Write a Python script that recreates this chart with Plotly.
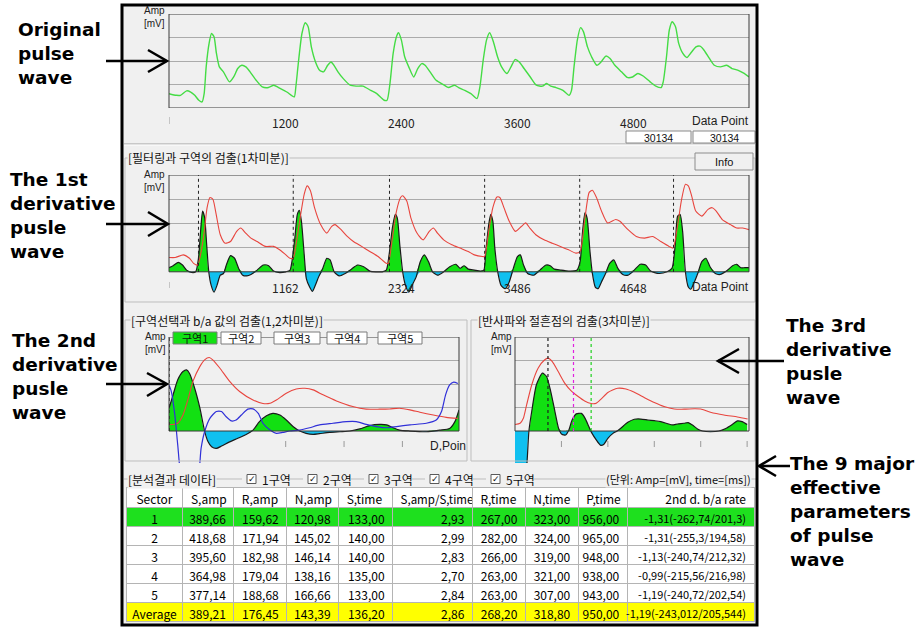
import numpy as np
import plotly.graph_objects as go

W, H = 916, 628

# ---------------------------------------------------------------- data
# Original pulse wave (sample index, amplitude)
pulse_x = [0, 76, 118, 182, 224, 266, 308, 342, 363, 384,
           414, 439, 465, 490, 520, 562, 625, 668, 710, 752,
           794, 837, 900, 963, 1027, 1082, 1132, 1217, 1293, 1310,
           1335, 1373, 1407, 1437, 1470, 1513, 1555, 1597, 1639, 1673,
           1703, 1745, 1800, 1872, 1935, 2003, 2083, 2146, 2222, 2252,
           2282, 2315, 2349, 2370, 2400, 2434, 2476, 2527, 2569, 2611,
           2645, 2696, 2759, 2843, 2886, 2949, 2991, 3055, 3118, 3181,
           3211, 3245, 3279, 3312, 3350, 3393, 3435, 3490, 3532, 3574,
           3617, 3667, 3731, 3794, 3857, 3900, 3942, 3997, 4069, 4132,
           4157, 4183, 4217, 4250, 4280, 4322, 4364, 4419, 4462, 4512,
           4555, 4605, 4673, 4732, 4787, 4842, 4901, 4969, 5028, 5083,
           5104, 5138, 5167, 5197, 5231, 5264, 5307, 5349, 5391, 5442,
           5484, 5526, 5581, 5632, 5695, 5759, 5814, 5873, 5940, 5990]
pulse_y = [61, 54, 54, 73, 68, 54, 33, 26, 61, 175,
           275, 317, 303, 232, 175, 154, 111, 132, 168, 182,
           175, 154, 118, 90, 87, 97, 87, 68, 47, 90,
           189, 317, 363, 346, 260, 196, 161, 154, 182, 196,
           182, 154, 125, 97, 93, 93, 75, 61, 33, 33,
           104, 232, 303, 320, 289, 218, 175, 132, 168, 189,
           182, 154, 118, 97, 87, 97, 87, 75, 61, 40,
           90, 204, 289, 320, 282, 218, 175, 147, 175, 206,
           196, 168, 132, 97, 93, 104, 93, 87, 75, 54,
           75, 175, 289, 342, 325, 260, 218, 182, 196, 221,
           211, 182, 154, 130, 132, 147, 135, 111, 93, 87,
           111, 218, 332, 367, 346, 275, 232, 215, 235, 260,
           263, 246, 211, 182, 175, 182, 168, 161, 147, 132]
pulse_ticks = [1200, 2400, 3600, 4800]
sample_count = "30134"

# Filtered wave and 1st derivative
flt_x = [0, 62, 144, 205, 246, 287, 328, 357, 381, 410,
         439, 472, 513, 562, 615, 677, 718, 767, 820, 882,
         964, 1046, 1107, 1169, 1210, 1243, 1271, 1312, 1353, 1382,
         1415, 1456, 1517, 1579, 1628, 1661, 1722, 1784, 1845, 1927,
         2009, 2092, 2174, 2194, 2235, 2276, 2317, 2338, 2379, 2420,
         2481, 2543, 2604, 2645, 2686, 2748, 2830, 2912, 2994, 3055,
         3137, 3158, 3199, 3240, 3281, 3310, 3351, 3404, 3465, 3527,
         3568, 3609, 3670, 3752, 3834, 3916, 3998, 4072, 4113, 4162,
         4204, 4236, 4277, 4327, 4388, 4470, 4511, 4593, 4675, 4757,
         4839, 4921, 5003, 5044, 5085, 5126, 5167, 5196, 5229, 5270,
         5331, 5393, 5434, 5475, 5536, 5618, 5680, 5741, 5803]
flt_y = [59, 59, 70, 56, 35, 28, 98, 181, 265, 307,
         300, 237, 153, 118, 125, 167, 181, 160, 139, 125,
         105, 105, 91, 70, 56, 56, 112, 223, 321, 355,
         335, 265, 195, 160, 188, 195, 174, 146, 125, 105,
         84, 63, 35, 35, 139, 251, 307, 314, 293, 223,
         160, 132, 167, 181, 160, 132, 112, 98, 84, 70,
         63, 63, 167, 265, 309, 307, 265, 209, 167, 188,
         202, 181, 153, 132, 118, 105, 91, 77, 84, 223,
         328, 337, 307, 251, 202, 216, 209, 174, 146, 139,
         146, 125, 105, 98, 181, 293, 362, 355, 314, 251,
         230, 258, 265, 251, 216, 195, 181, 181, 174]
d1_x = [0, 41, 94, 135, 176, 226, 267, 295, 316, 336,
        357, 377, 398, 422, 451, 480, 513, 545, 574, 615,
        656, 697, 738, 779, 820, 882, 943, 997, 1046, 1107,
        1169, 1210, 1230, 1259, 1284, 1304, 1325, 1353, 1374, 1407,
        1435, 1464, 1497, 1538, 1579, 1612, 1653, 1702, 1763, 1825,
        1886, 1948, 2009, 2071, 2133, 2174, 2202, 2235, 2264, 2284,
        2309, 2338, 2366, 2399, 2432, 2473, 2514, 2555, 2596, 2637,
        2686, 2748, 2809, 2871, 2912, 2953, 2994, 3055, 3117, 3150,
        3170, 3199, 3219, 3240, 3260, 3289, 3322, 3363, 3404, 3445,
        3486, 3515, 3547, 3588, 3650, 3711, 3773, 3814, 3855, 3916,
        3998, 4080, 4113, 4138, 4162, 4183, 4212, 4236, 4265, 4294,
        4327, 4368, 4409, 4450, 4491, 4540, 4593, 4655, 4716, 4769,
        4819, 4901, 4983, 5032, 5065, 5089, 5114, 5139, 5167, 5196,
        5220, 5249, 5290, 5331, 5372, 5413, 5466, 5516, 5577, 5639,
        5680, 5721, 5762, 5803]
d1_y = [17, 25, 39, 28, 7, -3, 0, 56, 167, 251,
        223, 112, 0, -56, -84, -56, -14, -7, 28, 67,
        56, 14, -14, -17, -11, 7, 28, 25, 3, -3,
        0, 6, 42, 139, 237, 254, 209, 70, -28, -63,
        -81, -56, -21, 14, 56, 49, 0, -17, -7, 11,
        28, 21, 3, 0, 0, 7, 70, 181, 237, 223,
        112, 0, -56, -84, -56, -21, 42, 70, 42, 0,
        -14, 0, 21, 31, 14, 25, 11, 7, 3, 7,
        84, 195, 237, 209, 98, 0, -56, -70, -42, 14,
        63, 70, 28, -7, -14, 7, 28, 25, 11, 7,
        3, 6, 42, 167, 244, 223, 84, -7, -63, -70,
        -42, -7, 35, 49, 14, -11, -14, 7, 31, 28,
        3, -7, 0, 14, 112, 230, 237, 167, 0, -63,
        -72, -49, -7, 42, 56, 21, -7, -11, 3, 25,
        31, 17, 17, 17]
d1_onsets = [295, 1243, 2206, 3158, 4109, 5048]
d1_ticks = [1162, 2324, 3486, 4648]

# Sector 1: filtered wave, 2nd derivative and auxiliary curve
s1_x = [0, 7, 15, 24, 33, 41, 53, 61, 69, 75,
        87, 104, 121, 144, 161, 173, 184, 201, 218, 233,
        247, 264, 287, 315, 338, 361, 378, 395, 413, 430,
        453, 475, 495]
s1_y = [28, 28, 33, 68, 139, 211, 275, 303, 313, 303,
        268, 211, 168, 132, 117, 118, 132, 161, 179, 182,
        175, 154, 128, 104, 93, 93, 94, 97, 90, 80,
        68, 58, 54]
d2_x = [0, 7, 15, 24, 30, 35, 44, 53, 61, 67,
        73, 81, 90, 104, 118, 133, 144, 155, 167, 178,
        190, 201, 213, 224, 235, 247, 258, 275, 293, 310,
        327, 344, 361, 373, 384, 395, 413, 441, 464, 481,
        490, 497]
d2_y = [97, 154, 218, 253, 260, 246, 182, 97, 0, -46,
        -67, -74, -64, -46, -31, -14, 4, 40, 65, 75,
        68, 47, 18, 0, -10, -14, -11, -6, -3, 0,
        9, 23, 28, 26, 14, 4, 0, -3, 4, 11,
        40, 90]
aux_x = [0, 4, 10, 15, 21, 35, 50, 55, 61, 70,
         81, 90, 98, 107, 115, 124, 135, 144, 153, 161,
         173, 184, 195, 207, 224, 241, 258, 281, 304, 321,
         338, 355, 373, 390, 413, 441, 458, 467, 474, 481,
         488, 495]
aux_y = [196, 168, 68, -60, -202, -288, -202, -74, -3, 54,
         83, 83, 61, 43, 47, 68, 93, 94, 75, 33,
         4, -10, -6, 0, 4, 14, 26, 33, 40, 40,
         28, 19, 14, 19, 26, 33, 47, 83, 154, 196,
         208, 202]
s1_onset = [0]
s1_ticks = [200, 300, 400]
sector_tabs = ["구역1", "구역2", "구역3", "구역4", "구역5"]

# Reflected wave / dicrotic notch: filtered wave and 3rd derivative
rw_x = [0, 11, 18, 25, 36, 50, 64, 71, 80, 93,
        107, 121, 136, 150, 164, 175, 186, 200, 221, 239,
        257, 279, 300, 321, 343, 364, 386, 400, 421, 450,
        479, 501]
rw_y = [28, 33, 54, 111, 196, 268, 303, 310, 296, 253,
        204, 171, 147, 128, 117, 118, 137, 164, 182, 179,
        165, 142, 121, 104, 94, 93, 95, 94, 80, 68,
        60, 51]
d3_x = [0, 21, 26, 30, 36, 46, 59, 68, 77, 86,
        94, 101, 109, 116, 123, 132, 143, 151, 159, 166,
        175, 184, 191, 200, 211, 220, 229, 243, 257, 271,
        286, 300, 314, 329, 339, 350, 364, 373, 382, 393,
        404, 421, 439, 454, 468, 479, 489, 500]
d3_y = [-316, -259, -131, 0, 83, 196, 246, 232, 168, 83,
        11, -14, -17, 4, 47, 73, 75, 54, 19, -10,
        -38, -60, -57, -31, -10, 0, 14, 37, 50, 51,
        47, 44, 40, 31, 26, 30, 33, 36, 26, 9,
        0, -3, 0, 11, 28, 43, 40, 28]
rw_marks = [71, 126, 164]
rw_mark_colors = ["#202020", "#e020e0", "#20d020"]
rw_ticks = [100, 200, 300, 400, 500]

# Analysis result table
sectors = ["1", "2", "3", "4", "5", "Average"]
s_amp = [389.66, 418.68, 395.60, 364.98, 377.14, 389.21]
r_amp = [159.62, 171.94, 182.98, 179.04, 188.68, 176.45]
n_amp = [120.98, 145.02, 146.14, 138.16, 166.66, 143.39]
s_time = [133.00, 140.00, 140.00, 135.00, 133.00, 136.20]
s_ratio = [2.93, 2.99, 2.83, 2.70, 2.84, 2.86]
r_time = [267.00, 282.00, 266.00, 263.00, 263.00, 268.20]
n_time = [323.00, 324.00, 319.00, 321.00, 307.00, 318.80]
p_time = [956.00, 965.00, 948.00, 938.00, 943.00, 950.00]
ba_rate = [-1.31, -1.31, -1.13, -0.99, -1.19, -1.19]
b_val = ["-262.74", "-255.3", "-240.74", "-215.56", "-240.72", "-243.012"]
a_val = ["201.3", "194.58", "212.32", "216.98", "202.54", "205.544"]
headers = ["Sector", "S,amp", "R,amp", "N,amp", "S,time", "S,amp/S,time",
           "R,time", "N,time", "P,time", "2nd d. b/a rate"]

# ---------------------------------------------------------------- styling
KR = "Noto Sans CJK KR, sans-serif"
NUM = "Noto Sans CJK KR, Liberation Sans, sans-serif"
SMALL = "Liberation Sans, Arial, sans-serif"
BIG = "DejaVu Sans, sans-serif"
PANEL = "#f0f0f0"
GREEN_FILL = "#12e012"
CYAN_FILL = "#10c0f0"
RED = "#e8453e"
BLUE = "#3030d8"
GRID = "#ababab"


def px(x):
    return x / W


def py(y):
    return 1 - y / H


shapes = []
annotations = []


def rect(x0, y0, x1, y1, line="#000", width=1, fill="rgba(0,0,0,0)", layer="above"):
    shapes.append(dict(type="rect", xref="paper", yref="paper",
                       x0=px(x0), x1=px(x1), y0=py(y1), y1=py(y0),
                       line=dict(color=line, width=width), fillcolor=fill, layer=layer))


def seg(x0, y0, x1, y1, color="#000", width=1):
    shapes.append(dict(type="line", xref="paper", yref="paper",
                       x0=px(x0), x1=px(x1), y0=py(y0), y1=py(y1),
                       line=dict(color=color, width=width)))


def path(points, color="#000", width=2.5):
    d = "M " + " L ".join(f"{px(a):.5f},{py(b):.5f}" for a, b in points)
    shapes.append(dict(type="path", xref="paper", yref="paper", path=d,
                       line=dict(color=color, width=width)))


def text(x, y, s, size=12, family=KR, color="#000", xanchor="center",
         bg="rgba(0,0,0,0)", align="left"):
    annotations.append(dict(xref="paper", yref="paper", x=px(x), y=py(y), text=s,
                            showarrow=False, xanchor=xanchor, yanchor="middle",
                            align=align, bgcolor=bg, borderpad=0,
                            font=dict(family=family, size=size, color=color)))


def fmt(v):
    return f"{v:.2f}".replace(".", ",")


# ---------------------------------------------------------------- figure
fig = go.Figure()


def filled_wave(x, y, xa, ya):
    y = np.asarray(y, dtype=float)
    fig.add_trace(go.Scatter(x=x, y=np.maximum(y, 0), mode="lines", fill="tozeroy",
                             fillcolor=GREEN_FILL, line=dict(width=0, shape="spline", smoothing=0.6),
                             xaxis=xa, yaxis=ya, hoverinfo="skip"))
    fig.add_trace(go.Scatter(x=x, y=np.minimum(y, 0), mode="lines", fill="tozeroy",
                             fillcolor=CYAN_FILL, line=dict(width=0, shape="spline", smoothing=0.6),
                             xaxis=xa, yaxis=ya, hoverinfo="skip"))
    fig.add_trace(go.Scatter(x=x, y=y, mode="lines",
                             line=dict(color="#1a1a1a", width=1.2, shape="spline", smoothing=0.6),
                             xaxis=xa, yaxis=ya))


def curve(x, y, color, xa, ya, width=1.1):
    fig.add_trace(go.Scatter(x=x, y=y, mode="lines",
                             line=dict(color=color, width=width, shape="spline", smoothing=0.6),
                             xaxis=xa, yaxis=ya))


# original pulse wave
curve(pulse_x, pulse_y, "#44dc44", "x", "y", width=1.4)
# 1st derivative panel
filled_wave(d1_x, d1_y, "x2", "y2")
curve(flt_x, flt_y, RED, "x2", "y2")
# sector selection panel
filled_wave(d2_x, d2_y, "x3", "y3")
curve(s1_x, s1_y, RED, "x3", "y3")
curve(aux_x, aux_y, BLUE, "x3", "y3", width=1.2)
# 3rd derivative panel
filled_wave(d3_x, d3_y, "x4", "y4")
curve(rw_x, rw_y, RED, "x4", "y4")

# ---------------------------------------------------------------- table
green_row = "#1ee01e"
yellow_row = "#ffff00"
row_fill = [green_row, "white", "white", "white", "white", yellow_row]
cols = [sectors,
        [fmt(v) for v in s_amp], [fmt(v) for v in r_amp], [fmt(v) for v in n_amp],
        [fmt(v) for v in s_time], [fmt(v) for v in s_ratio], [fmt(v) for v in r_time],
        [fmt(v) for v in n_time], [fmt(v) for v in p_time],
        [f"{fmt(r)}({b}/{a})".replace(".", ",") for r, b, a in zip(ba_rate, b_val, a_val)]]
fig.add_trace(go.Table(
    domain=dict(x=[px(126), px(755)], y=[py(625), py(487)]),
    columnwidth=[57, 51, 53, 52, 54, 80, 53, 53, 49, 127],
    header=dict(values=headers, fill_color="white", line_color="#b4b4b4",
                align=["center"] + ["left"] * 8 + ["right"], height=20,
                font=dict(family=NUM, size=[12] * 5 + [11.5] + [12] * 4, color="#000")),
    cells=dict(values=cols, fill_color=[row_fill] * 10, line_color="#b4b4b4",
               align=["center"] + ["right"] * 9, height=19,
               font=dict(family=NUM, size=[12] * 9 + [11], color="#000")),
))

# ---------------------------------------------------------------- background, frames
rect(122, 5, 757, 625, line=PANEL, width=0, fill=PANEL, layer="below")

# panel group boxes
seg(124, 144, 755, 144, "#a0a0a0")
seg(124, 145, 755, 145, "#ffffff")
rect(125, 158, 755, 302, line="#bdbdbd")
rect(125, 320, 467, 461, line="#bdbdbd")
rect(471, 320, 755, 461, line="#bdbdbd")
seg(124, 479, 756, 479, "#bdbdbd")

# plot boxes and gridlines are tied to each subplot
for xa, ya in [("x", "y"), ("x2", "y2"), ("x3", "y3"), ("x4", "y4")]:
    shapes.append(dict(type="rect", xref=f"{xa} domain", yref=ya, x0=0, x1=1, y0=0, y1=400,
                       line=dict(color="#3a3a3a", width=1), fillcolor="rgba(0,0,0,0)"))

# onset markers
for v in d1_onsets:
    shapes.append(dict(type="line", xref="x2", yref="y2", x0=v, x1=v, y0=0, y1=400,
                       line=dict(color="#222", width=1, dash="dot")))
for v in s1_onset:
    shapes.append(dict(type="line", xref="x3", yref="y3", x0=v, x1=v, y0=0, y1=400,
                       line=dict(color="#222", width=1.2, dash="dot")))
for v, c in zip(rw_marks, rw_mark_colors):
    shapes.append(dict(type="line", xref="x4", yref="y4", x0=v, x1=v, y0=0, y1=400,
                       line=dict(color=c, width=1.2, dash="dot")))

# small axis tick marks
for xr, vals, y0, y1 in [("x", [0], 117, 124), ("x2", [0], 282, 288),
                         ("x3", s1_ticks, 441, 447), ("x4", rw_ticks, 441, 447)]:
    for v in vals:
        shapes.append(dict(type="line", xref=xr, yref="paper", x0=v, x1=v,
                           y0=py(y1), y1=py(y0), line=dict(color="#9a9a9a", width=1)))

# tick labels
for v in pulse_ticks:
    annotations.append(dict(xref="x", yref="paper", x=v, y=py(122), text=str(v), showarrow=False,
                            yanchor="middle", font=dict(family=NUM, size=12, color="#222")))
for v in d1_ticks:
    annotations.append(dict(xref="x2", yref="paper", x=v, y=py(287), text=str(v), showarrow=False,
                            yanchor="middle", font=dict(family=NUM, size=12, color="#222")))
text(750, 121, "Data Point", 12, SMALL, "#222", xanchor="right")
text(750, 287, "Data Point", 12, SMALL, "#222", xanchor="right")
text(429, 446, "D,Poin", 12, SMALL, "#222", xanchor="left")

# amplitude labels
for x, y in [(154, 17), (154, 181), (155, 343), (501, 343)]:
    text(x, y, "Amp<br>[mV]", 10, SMALL, "#222", align="center")

# counters under the top panel
for x0, x1 in [(626, 691), (693, 755)]:
    rect(x0, 131, x1, 143, line="#8a8a8a", fill="white")
    text((x0 + x1) / 2, 137.5, sample_count, 10.5, SMALL, "#111")

# Info button
rect(695, 153, 753, 170, line="#8c8c8c", fill="#f0f0f0")
text(724, 161.5, "Info", 11, SMALL, "#111")

# group titles
text(127, 157, "[필터링과 구역의 검출(1차미분)]", 12, KR, "#111", xanchor="left", bg=PANEL)
text(130, 320, "[구역선택과 b/a 값의 검출(1,2차미분)]", 12, KR, "#111", xanchor="left", bg=PANEL)
text(477, 320, "[반사파와 절흔점의 검출(3차미분)]", 12, KR, "#111", xanchor="left", bg=PANEL)
text(127, 479, "[분석결과 데이타]", 12, KR, "#111", xanchor="left", bg=PANEL)
text(752, 479, "(단위: Amp=[mV], time=[ms])", 11, KR, "#111", xanchor="right", bg=PANEL)

# sector check boxes
for i, cx in enumerate([252, 313, 374, 435, 496]):
    rect(cx - 10, 472, cx + 38, 486, line=PANEL, width=0, fill=PANEL)
    rect(cx - 5, 474.5, cx + 4, 483.5, line="#5a5a5a", fill="white")
    text(cx, 479, "✓", 9, BIG, "#111")
    text(cx + 9, 479, f"{i + 1}구역", 12, KR, "#111", xanchor="left")

# sector tabs
for name, cx, w in zip(sector_tabs, [195, 241, 297, 347, 400], [44, 40, 46, 40, 44]):
    fill = GREEN_FILL if name == sector_tabs[0] else "white"
    rect(cx - w / 2, 332, cx + w / 2, 344, line="#7a7a7a", fill=fill)
    text(cx, 338, name, 11, KR, "#111")

# outer frame
rect(122, 5, 757, 625, line="#000", width=3)

# side captions
bold = lambda lines: "<br>".join(f"<b>{s}</b>" for s in lines)
text(17, 54, bold(["Original", "pulse", "wave"]), 18.5, BIG, "#000", xanchor="left")
text(9, 215.5, bold(["The 1st", "derivative", "pusle", "wave"]), 18.5, BIG, "#000", xanchor="left")
text(11, 376.5, bold(["The 2nd", "derivative", "pusle", "wave"]), 18.5, BIG, "#000", xanchor="left")
text(785, 361, bold(["The 3rd", "derivative", "pusle", "wave"]), 18.5, BIG, "#000", xanchor="left")
text(789, 511, bold(["The 9 major", "effective", "parameters", "of pulse", "wave"]), 18.5, BIG, "#000",
     xanchor="left")

# pointer arrows
path([(106, 61), (166, 61)])
path([(148, 50), (167, 61), (148, 72)])
path([(106, 224), (167, 224)])
path([(148, 212), (168, 224), (148, 236)])
path([(106, 384), (166, 384)])
path([(147, 373), (167, 384), (147, 396)])
path([(718, 361), (784, 361)])
path([(739, 349), (718, 361), (739, 373)])
path([(760, 466), (790, 466)])
path([(776, 456), (759, 466), (776, 476)])

# ---------------------------------------------------------------- axes
def xax(d0, d1, r):
    return dict(domain=[px(d0), px(d1)], range=r, showgrid=False, zeroline=False,
                showline=False, showticklabels=False, ticks="", fixedrange=True)


def yax(d0, d1, r):
    return dict(domain=[py(d1), py(d0)], range=r, tickvals=[100, 200, 300], showgrid=True,
                gridcolor=GRID, gridwidth=1, zeroline=False, showline=False,
                showticklabels=False, ticks="", fixedrange=True)


fig.update_layout(
    width=W, height=H, margin=dict(l=0, r=0, t=0, b=0),
    paper_bgcolor="white", plot_bgcolor="rgba(0,0,0,0)", showlegend=False,
    xaxis=xax(169, 749, [0, 5990]), yaxis=yax(14, 108, [0, 400]),
    xaxis2=xax(169, 749, [0, 5803]), yaxis2=yax(175, 296, [-100, 400]),
    xaxis3=xax(169, 459, [0, 497]), yaxis3=yax(337, 463, [-136, 400]),
    xaxis4=xax(515, 749, [0, 504]), yaxis4=yax(337, 463, [-136, 400]),
    shapes=shapes, annotations=annotations,
)

fig.write_html("out.html")
